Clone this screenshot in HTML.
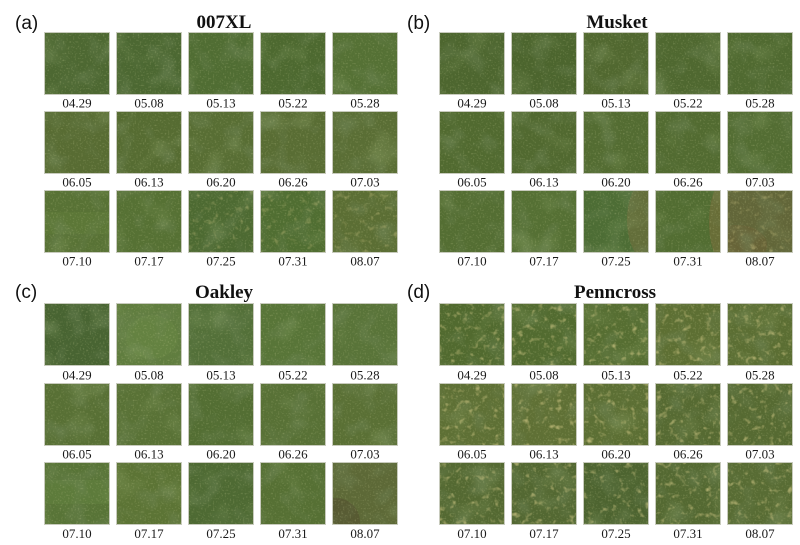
<!DOCTYPE html>
<html>
<head>
<meta charset="utf-8">
<style>
html,body{margin:0;padding:0;background:#fff;}
body{width:800px;height:545px;overflow:hidden;}
svg{display:block;}
.l{font-family:"Liberation Serif",serif;font-size:13px;fill:#1a1a1a;text-anchor:middle;}
.t{font-family:"Liberation Serif",serif;font-size:19px;font-weight:bold;fill:#111;text-anchor:middle;}
.p{font-family:"Liberation Sans",sans-serif;font-size:19px;fill:#111;}
</style>
</head>
<body>
<svg width="800" height="545" viewBox="0 0 800 545" xmlns="http://www.w3.org/2000/svg">
<defs>
<filter id="speck" filterUnits="userSpaceOnUse" x="0" y="0" width="800" height="545">
<feTurbulence type="fractalNoise" baseFrequency="0.6" numOctaves="1" seed="3"/>
<feColorMatrix type="matrix" values="0 0 0 0 0.58  0 0 0 0 0.62  0 0 0 0 0.30  1.0 0 0 0 -0.54"/>
</filter>
<filter id="mottle" filterUnits="userSpaceOnUse" x="0" y="0" width="800" height="545">
<feTurbulence type="fractalNoise" baseFrequency="0.045" numOctaves="2" seed="7"/>
<feColorMatrix type="matrix" values="0 0 0 0 0.18  0 0 0 0 0.26  0 0 0 0 0.12  1.2 0 0 0 -0.58"/>
</filter>
<filter id="light" filterUnits="userSpaceOnUse" x="0" y="0" width="800" height="545">
<feTurbulence type="fractalNoise" baseFrequency="0.03" numOctaves="2" seed="11"/>
<feColorMatrix type="matrix" values="0 0 0 0 0.40  0 0 0 0 0.52  0 0 0 0 0.24  0.7 0 0 0 -0.4"/>
</filter>
<filter id="blot" filterUnits="userSpaceOnUse" x="0" y="0" width="800" height="545">
<feTurbulence type="fractalNoise" baseFrequency="0.16" numOctaves="2" seed="5"/>
<feColorMatrix type="matrix" values="0 0 0 0 0.70  0 0 0 0 0.62  0 0 0 0 0.26  2.2 0 0 0 -1.3"/>
</filter>
<clipPath id="all">
<rect x="44" y="32" width="66" height="63"/><rect x="116" y="32" width="66" height="63"/><rect x="188" y="32" width="66" height="63"/><rect x="260" y="32" width="66" height="63"/><rect x="332" y="32" width="66" height="63"/>
<rect x="44" y="111" width="66" height="63"/><rect x="116" y="111" width="66" height="63"/><rect x="188" y="111" width="66" height="63"/><rect x="260" y="111" width="66" height="63"/><rect x="332" y="111" width="66" height="63"/>
<rect x="44" y="190" width="66" height="63"/><rect x="116" y="190" width="66" height="63"/><rect x="188" y="190" width="66" height="63"/><rect x="260" y="190" width="66" height="63"/><rect x="332" y="190" width="66" height="63"/>
<rect x="439" y="32" width="66" height="63"/><rect x="511" y="32" width="66" height="63"/><rect x="583" y="32" width="66" height="63"/><rect x="655" y="32" width="66" height="63"/><rect x="727" y="32" width="66" height="63"/>
<rect x="439" y="111" width="66" height="63"/><rect x="511" y="111" width="66" height="63"/><rect x="583" y="111" width="66" height="63"/><rect x="655" y="111" width="66" height="63"/><rect x="727" y="111" width="66" height="63"/>
<rect x="439" y="190" width="66" height="63"/><rect x="511" y="190" width="66" height="63"/><rect x="583" y="190" width="66" height="63"/><rect x="655" y="190" width="66" height="63"/><rect x="727" y="190" width="66" height="63"/>
<rect x="44" y="303" width="66" height="63"/><rect x="116" y="303" width="66" height="63"/><rect x="188" y="303" width="66" height="63"/><rect x="260" y="303" width="66" height="63"/><rect x="332" y="303" width="66" height="63"/>
<rect x="44" y="383" width="66" height="63"/><rect x="116" y="383" width="66" height="63"/><rect x="188" y="383" width="66" height="63"/><rect x="260" y="383" width="66" height="63"/><rect x="332" y="383" width="66" height="63"/>
<rect x="44" y="462" width="66" height="63"/><rect x="116" y="462" width="66" height="63"/><rect x="188" y="462" width="66" height="63"/><rect x="260" y="462" width="66" height="63"/><rect x="332" y="462" width="66" height="63"/>
<rect x="439" y="303" width="66" height="63"/><rect x="511" y="303" width="66" height="63"/><rect x="583" y="303" width="66" height="63"/><rect x="655" y="303" width="66" height="63"/><rect x="727" y="303" width="66" height="63"/>
<rect x="439" y="383" width="66" height="63"/><rect x="511" y="383" width="66" height="63"/><rect x="583" y="383" width="66" height="63"/><rect x="655" y="383" width="66" height="63"/><rect x="727" y="383" width="66" height="63"/>
<rect x="439" y="462" width="66" height="63"/><rect x="511" y="462" width="66" height="63"/><rect x="583" y="462" width="66" height="63"/><rect x="655" y="462" width="66" height="63"/><rect x="727" y="462" width="66" height="63"/>
</clipPath>
<clipPath id="pc">
<rect x="439" y="303" width="66" height="63"/><rect x="511" y="303" width="66" height="63"/><rect x="583" y="303" width="66" height="63"/><rect x="655" y="303" width="66" height="63"/><rect x="727" y="303" width="66" height="63"/>
<rect x="439" y="383" width="66" height="63"/><rect x="511" y="383" width="66" height="63"/><rect x="583" y="383" width="66" height="63"/><rect x="655" y="383" width="66" height="63"/><rect x="727" y="383" width="66" height="63"/>
<rect x="439" y="462" width="66" height="63"/><rect x="511" y="462" width="66" height="63"/><rect x="583" y="462" width="66" height="63"/><rect x="655" y="462" width="66" height="63"/><rect x="727" y="462" width="66" height="63"/>
</clipPath>
<clipPath id="few">
<rect x="332" y="190" width="66" height="63"/><rect x="727" y="190" width="66" height="63"/><rect x="260" y="190" width="66" height="63"/><rect x="188" y="190" width="66" height="63"/>
</clipPath>
</defs>

<!-- (a) 007XL -->
<rect x="44" y="32" width="66" height="63" fill="#4d6832"/><rect x="116" y="32" width="66" height="63" fill="#4c6832"/><rect x="188" y="32" width="66" height="63" fill="#506d33"/><rect x="260" y="32" width="66" height="63" fill="#4d6930"/><rect x="332" y="32" width="66" height="63" fill="#557135"/>
<rect x="44" y="111" width="66" height="63" fill="#586c33"/><rect x="116" y="111" width="66" height="63" fill="#566c32"/><rect x="188" y="111" width="66" height="63" fill="#586e34"/><rect x="260" y="111" width="66" height="63" fill="#596d34"/><rect x="332" y="111" width="66" height="63" fill="#5a6e35"/>
<rect x="44" y="190" width="66" height="63" fill="#587235"/><rect x="116" y="190" width="66" height="63" fill="#567134"/><rect x="188" y="190" width="66" height="63" fill="#4d6a32"/><rect x="260" y="190" width="66" height="63" fill="#506e32"/><rect x="332" y="190" width="66" height="63" fill="#5b6e34"/>
<!-- (b) Musket -->
<rect x="439" y="32" width="66" height="63" fill="#4d662f"/><rect x="511" y="32" width="66" height="63" fill="#4c652e"/><rect x="583" y="32" width="66" height="63" fill="#516830"/><rect x="655" y="32" width="66" height="63" fill="#4f6830"/><rect x="727" y="32" width="66" height="63" fill="#506a31"/>
<rect x="439" y="111" width="66" height="63" fill="#516a30"/><rect x="511" y="111" width="66" height="63" fill="#516930"/><rect x="583" y="111" width="66" height="63" fill="#536c32"/><rect x="655" y="111" width="66" height="63" fill="#526b31"/><rect x="727" y="111" width="66" height="63" fill="#536d33"/>
<rect x="439" y="190" width="66" height="63" fill="#546e33"/><rect x="511" y="190" width="66" height="63" fill="#557034"/><rect x="583" y="190" width="66" height="63" fill="#4d6d35"/><rect x="655" y="190" width="66" height="63" fill="#526d32"/><rect x="727" y="190" width="66" height="63" fill="#626639"/>
<!-- (c) Oakley -->
<rect x="44" y="303" width="66" height="63" fill="#486432"/><rect x="116" y="303" width="66" height="63" fill="#607d3f"/><rect x="188" y="303" width="66" height="63" fill="#537039"/><rect x="260" y="303" width="66" height="63" fill="#587538"/><rect x="332" y="303" width="66" height="63" fill="#597439"/>
<rect x="44" y="383" width="66" height="63" fill="#587035"/><rect x="116" y="383" width="66" height="63" fill="#597236"/><rect x="188" y="383" width="66" height="63" fill="#536e33"/><rect x="260" y="383" width="66" height="63" fill="#587136"/><rect x="332" y="383" width="66" height="63" fill="#5a7035"/>
<rect x="44" y="462" width="66" height="63" fill="#587437"/><rect x="116" y="462" width="66" height="63" fill="#5c7435"/><rect x="188" y="462" width="66" height="63" fill="#4e6a33"/><rect x="260" y="462" width="66" height="63" fill="#567034"/><rect x="332" y="462" width="66" height="63" fill="#5d6937"/>
<!-- (d) Penncross -->
<rect x="439" y="303" width="66" height="63" fill="#516a2f"/><rect x="511" y="303" width="66" height="63" fill="#526b30"/><rect x="583" y="303" width="66" height="63" fill="#566e32"/><rect x="655" y="303" width="66" height="63" fill="#5d6f33"/><rect x="727" y="303" width="66" height="63" fill="#5b6e33"/>
<rect x="439" y="383" width="66" height="63" fill="#5e7035"/><rect x="511" y="383" width="66" height="63" fill="#5f7035"/><rect x="583" y="383" width="66" height="63" fill="#5c6f34"/><rect x="655" y="383" width="66" height="63" fill="#566a32"/><rect x="727" y="383" width="66" height="63" fill="#566a32"/>
<rect x="439" y="462" width="66" height="63" fill="#546932"/><rect x="511" y="462" width="66" height="63" fill="#536832"/><rect x="583" y="462" width="66" height="63" fill="#4d6430"/><rect x="655" y="462" width="66" height="63" fill="#546932"/><rect x="727" y="462" width="66" height="63" fill="#586c34"/>

<!-- special tile features -->
<svg x="583" y="190" width="66" height="63"><ellipse cx="66" cy="30" rx="22" ry="42" fill="#77703e" opacity="0.55"/></svg>
<svg x="655" y="190" width="66" height="63"><ellipse cx="72" cy="32" rx="18" ry="44" fill="#7a6d3c" opacity="0.55"/></svg>
<svg x="727" y="190" width="66" height="63"><ellipse cx="10" cy="55" rx="30" ry="20" fill="#6e5f36" opacity="0.45"/></svg>
<svg x="116" y="303" width="66" height="63"><ellipse cx="36" cy="34" rx="26" ry="22" fill="#6c8a46" opacity="0.4"/></svg>
<svg x="44" y="462" width="66" height="63"><rect x="0" y="18" width="66" height="24" fill="#6a8a44" opacity="0.3"/></svg>
<svg x="44" y="190" width="66" height="63"><rect x="0" y="22" width="66" height="22" fill="#68863f" opacity="0.25"/></svg>
<svg x="332" y="462" width="66" height="63"><ellipse cx="4" cy="60" rx="24" ry="24" fill="#4f4a2c" opacity="0.45"/></svg>

<!-- textures -->
<g clip-path="url(#all)">
<rect x="0" y="0" width="800" height="545" filter="url(#mottle)"/>
<rect x="0" y="0" width="800" height="545" filter="url(#light)"/>
<rect x="0" y="0" width="800" height="545" filter="url(#speck)"/>
</g>
<g clip-path="url(#pc)">
<rect x="0" y="0" width="800" height="545" filter="url(#blot)"/>
</g>
<g clip-path="url(#few)" opacity="0.6">
<rect x="0" y="0" width="800" height="545" filter="url(#blot)"/>
</g>

<!-- tile borders -->
<g fill="none" stroke="#c8cbbd" stroke-width="1">
<rect x="44.5" y="32.5" width="65" height="62"/><rect x="116.5" y="32.5" width="65" height="62"/><rect x="188.5" y="32.5" width="65" height="62"/><rect x="260.5" y="32.5" width="65" height="62"/><rect x="332.5" y="32.5" width="65" height="62"/>
<rect x="44.5" y="111.5" width="65" height="62"/><rect x="116.5" y="111.5" width="65" height="62"/><rect x="188.5" y="111.5" width="65" height="62"/><rect x="260.5" y="111.5" width="65" height="62"/><rect x="332.5" y="111.5" width="65" height="62"/>
<rect x="44.5" y="190.5" width="65" height="62"/><rect x="116.5" y="190.5" width="65" height="62"/><rect x="188.5" y="190.5" width="65" height="62"/><rect x="260.5" y="190.5" width="65" height="62"/><rect x="332.5" y="190.5" width="65" height="62"/>
<rect x="439.5" y="32.5" width="65" height="62"/><rect x="511.5" y="32.5" width="65" height="62"/><rect x="583.5" y="32.5" width="65" height="62"/><rect x="655.5" y="32.5" width="65" height="62"/><rect x="727.5" y="32.5" width="65" height="62"/>
<rect x="439.5" y="111.5" width="65" height="62"/><rect x="511.5" y="111.5" width="65" height="62"/><rect x="583.5" y="111.5" width="65" height="62"/><rect x="655.5" y="111.5" width="65" height="62"/><rect x="727.5" y="111.5" width="65" height="62"/>
<rect x="439.5" y="190.5" width="65" height="62"/><rect x="511.5" y="190.5" width="65" height="62"/><rect x="583.5" y="190.5" width="65" height="62"/><rect x="655.5" y="190.5" width="65" height="62"/><rect x="727.5" y="190.5" width="65" height="62"/>
<rect x="44.5" y="303.5" width="65" height="62"/><rect x="116.5" y="303.5" width="65" height="62"/><rect x="188.5" y="303.5" width="65" height="62"/><rect x="260.5" y="303.5" width="65" height="62"/><rect x="332.5" y="303.5" width="65" height="62"/>
<rect x="44.5" y="383.5" width="65" height="62"/><rect x="116.5" y="383.5" width="65" height="62"/><rect x="188.5" y="383.5" width="65" height="62"/><rect x="260.5" y="383.5" width="65" height="62"/><rect x="332.5" y="383.5" width="65" height="62"/>
<rect x="44.5" y="462.5" width="65" height="62"/><rect x="116.5" y="462.5" width="65" height="62"/><rect x="188.5" y="462.5" width="65" height="62"/><rect x="260.5" y="462.5" width="65" height="62"/><rect x="332.5" y="462.5" width="65" height="62"/>
<rect x="439.5" y="303.5" width="65" height="62"/><rect x="511.5" y="303.5" width="65" height="62"/><rect x="583.5" y="303.5" width="65" height="62"/><rect x="655.5" y="303.5" width="65" height="62"/><rect x="727.5" y="303.5" width="65" height="62"/>
<rect x="439.5" y="383.5" width="65" height="62"/><rect x="511.5" y="383.5" width="65" height="62"/><rect x="583.5" y="383.5" width="65" height="62"/><rect x="655.5" y="383.5" width="65" height="62"/><rect x="727.5" y="383.5" width="65" height="62"/>
<rect x="439.5" y="462.5" width="65" height="62"/><rect x="511.5" y="462.5" width="65" height="62"/><rect x="583.5" y="462.5" width="65" height="62"/><rect x="655.5" y="462.5" width="65" height="62"/><rect x="727.5" y="462.5" width="65" height="62"/>
</g>

<!-- panel letters & titles -->
<text class="p" x="15" y="29">(a)</text>
<text class="p" x="407" y="29">(b)</text>
<text class="p" x="15" y="298">(c)</text>
<text class="p" x="407" y="298">(d)</text>
<text class="t" x="224" y="28">007XL</text>
<text class="t" x="617" y="28">Musket</text>
<text class="t" x="224" y="298">Oakley</text>
<text class="t" x="615" y="298">Penncross</text>

<!-- labels (a) -->
<text class="l" x="77" y="107.5">04.29</text><text class="l" x="149" y="107.5">05.08</text><text class="l" x="221" y="107.5">05.13</text><text class="l" x="293" y="107.5">05.22</text><text class="l" x="365" y="107.5">05.28</text>
<text class="l" x="77" y="186.5">06.05</text><text class="l" x="149" y="186.5">06.13</text><text class="l" x="221" y="186.5">06.20</text><text class="l" x="293" y="186.5">06.26</text><text class="l" x="365" y="186.5">07.03</text>
<text class="l" x="77" y="265.5">07.10</text><text class="l" x="149" y="265.5">07.17</text><text class="l" x="221" y="265.5">07.25</text><text class="l" x="293" y="265.5">07.31</text><text class="l" x="365" y="265.5">08.07</text>
<!-- labels (b) -->
<text class="l" x="472" y="107.5">04.29</text><text class="l" x="544" y="107.5">05.08</text><text class="l" x="616" y="107.5">05.13</text><text class="l" x="688" y="107.5">05.22</text><text class="l" x="760" y="107.5">05.28</text>
<text class="l" x="472" y="186.5">06.05</text><text class="l" x="544" y="186.5">06.13</text><text class="l" x="616" y="186.5">06.20</text><text class="l" x="688" y="186.5">06.26</text><text class="l" x="760" y="186.5">07.03</text>
<text class="l" x="472" y="265.5">07.10</text><text class="l" x="544" y="265.5">07.17</text><text class="l" x="616" y="265.5">07.25</text><text class="l" x="688" y="265.5">07.31</text><text class="l" x="760" y="265.5">08.07</text>
<!-- labels (c) -->
<text class="l" x="77" y="379.5">04.29</text><text class="l" x="149" y="379.5">05.08</text><text class="l" x="221" y="379.5">05.13</text><text class="l" x="293" y="379.5">05.22</text><text class="l" x="365" y="379.5">05.28</text>
<text class="l" x="77" y="458.5">06.05</text><text class="l" x="149" y="458.5">06.13</text><text class="l" x="221" y="458.5">06.20</text><text class="l" x="293" y="458.5">06.26</text><text class="l" x="365" y="458.5">07.03</text>
<text class="l" x="77" y="538">07.10</text><text class="l" x="149" y="538">07.17</text><text class="l" x="221" y="538">07.25</text><text class="l" x="293" y="538">07.31</text><text class="l" x="365" y="538">08.07</text>
<!-- labels (d) -->
<text class="l" x="472" y="379.5">04.29</text><text class="l" x="544" y="379.5">05.08</text><text class="l" x="616" y="379.5">05.13</text><text class="l" x="688" y="379.5">05.22</text><text class="l" x="760" y="379.5">05.28</text>
<text class="l" x="472" y="458.5">06.05</text><text class="l" x="544" y="458.5">06.13</text><text class="l" x="616" y="458.5">06.20</text><text class="l" x="688" y="458.5">06.26</text><text class="l" x="760" y="458.5">07.03</text>
<text class="l" x="472" y="538">07.10</text><text class="l" x="544" y="538">07.17</text><text class="l" x="616" y="538">07.25</text><text class="l" x="688" y="538">07.31</text><text class="l" x="760" y="538">08.07</text>
</svg>
</body>
</html>
